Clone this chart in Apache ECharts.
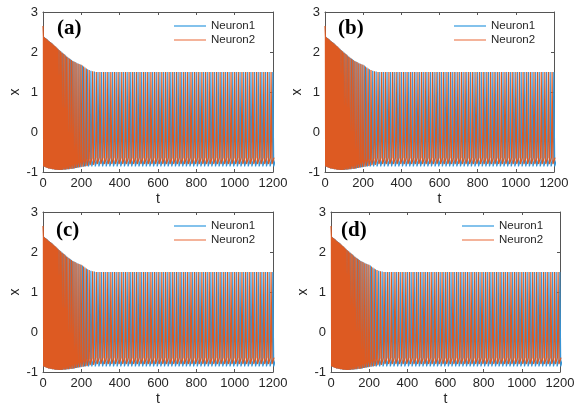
<!DOCTYPE html>
<html><head><meta charset="utf-8">
<script src="https://cdn.jsdelivr.net/npm/echarts@6/dist/echarts.min.js"></script>
<style>html,body{margin:0;padding:0;background:#fff}#c{width:581px;height:407px}</style>
</head><body><div id="c"></div><script>
// ---- data ----
const panelLabels = ['(a)', '(b)', '(c)', '(d)'];
const seriesNames = ['Neuron1', 'Neuron2'];
const xTicks = [0, 200, 400, 600, 800, 1000, 1200];
const yTicks = [-1, 0, 1, 2, 3];

// Neuron1 (blue): transient spikes
const n1TransTimes = [3,8,13,18,23,28,33,38,43,48,55,61,67,73,80,87,94,101,110,118,126,135,144,153,162,172,183,194,206,219,233,250,268];
const n1TransPeaks = [2.39,2.37,2.35,2.33,2.31,2.29,2.27,2.25,2.23,2.21,2.18,2.15,2.13,2.10,2.07,2.04,2.01,1.98,1.95,1.91,1.88,1.85,1.82,1.78,1.76,1.74,1.71,1.69,1.66,1.61,1.57,1.53,1.51];
const n1TransTroughs = [-0.86,-0.87,-0.88,-0.89,-0.90,-0.91,-0.91,-0.92,-0.92,-0.93,-0.93,-0.94,-0.94,-0.94,-0.95,-0.95,-0.95,-0.95,-0.94,-0.94,-0.93,-0.93,-0.92,-0.92,-0.91,-0.90,-0.89,-0.88,-0.87,-0.86,-0.86,-0.86,-0.86];
// Neuron1 steady spikes
const n1SteadyTimes = [287,306,325,344,363,382,401,420,439,458,477,496,515,534,553,572,591,610,629,648,667,686,705,724,743,762,781,800,819,838,857,876,895,914,933,952,971,990,1009,1028,1047,1066,1085,1104,1123,1142,1161,1180,1199];
const n1SteadyPeak = 1.5;
const n1SteadyTrough = -0.86;
const n1Recover = -0.68;

// Neuron2 (orange)
const n2Start = [0, 2.65];
const n2TransTimes = [2,7,12,17,22,27,32,37,42,47,53,59,65,71,77,84,91,98,106,114,122,130,139,148,157,167,177,188,199,212,226,241,259];
const n2TransPeaks = [2.39,2.37,2.35,2.33,2.31,2.29,2.27,2.25,2.23,2.21,2.19,2.16,2.14,2.11,2.08,2.05,2.02,1.99,1.96,1.93,1.89,1.86,1.83,1.80,1.77,1.75,1.72,1.70,1.68,1.64,1.59,1.55,1.52];
const n2TransTroughs = [-0.86,-0.87,-0.88,-0.89,-0.90,-0.91,-0.91,-0.92,-0.92,-0.93,-0.93,-0.94,-0.94,-0.94,-0.95,-0.95,-0.95,-0.95,-0.94,-0.94,-0.93,-0.93,-0.92,-0.92,-0.91,-0.90,-0.89,-0.88,-0.87,-0.86,-0.85,-0.83,-0.82];
const n2SteadyTimes = [278,297,316,335,354,373,392,411,430,449,468,487,506,525,544,563,582,601,620,639,658,677,696,715,734,753,772,791,810,829,848,867,886,905,924,943,962,981,1000,1019,1038,1057,1076,1095,1114,1133,1152,1171,1190];
const n2SteadyPeak = 1.5;
const n2SteadyTrough = -0.80;
const n2Recover = -0.64;

// ---- build polylines from spike lists ----
function buildTrace(transT, transP, transTr, steadyT, steadyP, steadyTr, recover, start) {
  const times = transT.concat(steadyT);
  const peaks = transP.concat(steadyT.map(() => steadyP));
  const troughs = transTr.concat(steadyT.map(() => steadyTr));
  const pts = [];
  if (start) pts.push(start);
  for (let i = 0; i < times.length; i++) {
    const t = times[i];
    const dt = (i + 1 < times.length ? times[i + 1] : t + (t - times[i - 1])) - t;
    pts.push([t, peaks[i]]);
    pts.push([t + 0.25 * dt, troughs[i]]);
    const rec = i < transT.length ? troughs[i] + 0.18 : recover;
    pts.push([t + 0.82 * dt, rec]);
  }
  return pts;
}
const n1Data = buildTrace(n1TransTimes, n1TransPeaks, n1TransTroughs, n1SteadyTimes, n1SteadyPeak, n1SteadyTrough, n1Recover, null);
const n2Data = buildTrace(n2TransTimes, n2TransPeaks, n2TransTroughs, n2SteadyTimes, n2SteadyPeak, n2SteadyTrough, n2Recover, n2Start);

// ---- layout ----
const grids = [
  {left: 43, top: 12, width: 230, height: 160},
  {left: 325, top: 12, width: 229, height: 160},
  {left: 43, top: 212, width: 230, height: 160},
  {left: 331, top: 212, width: 229, height: 161}
];
const labelPos = [[57, 18], [338, 18], [56, 220], [341, 220]];
const legendPos = [[174, 20], [454, 20], [174, 220], [462, 220]];
const blue = '#3895d6', orange = '#dd5a22';
const axisCol = '#555';
const font = 'Liberation Sans';

const xAxes = [], yAxes = [], series = [], legends = [], graphics = [];
grids.forEach((g, i) => {
  const tick = {show: true, inside: true, length: 3, lineStyle: {color: axisCol}};
  const line = {show: true, onZero: false, lineStyle: {color: axisCol, width: 1}};
  xAxes.push({type: 'value', gridIndex: i, min: xTicks[0], max: xTicks[xTicks.length - 1], interval: 200,
    axisLine: line, axisTick: tick, splitLine: {show: false},
    axisLabel: {color: '#262626', fontSize: 13, margin: 5, fontFamily: font, formatter: v => String(v)},
    name: 't', nameLocation: 'middle', nameGap: 20,
    nameTextStyle: {color: '#262626', fontSize: 14, fontFamily: font}});
  xAxes.push({type: 'value', gridIndex: i, position: 'top', min: 0, max: 1200, interval: 200,
    axisLine: line, axisTick: tick, splitLine: {show: false}, axisLabel: {show: false}});
  yAxes.push({type: 'value', gridIndex: i, min: yTicks[0], max: yTicks[yTicks.length - 1], interval: 1,
    axisLine: line, axisTick: tick, splitLine: {show: false},
    axisLabel: {color: '#262626', fontSize: 13, margin: 5, fontFamily: font, formatter: v => String(v)},
    name: 'x', nameLocation: 'middle', nameGap: 17, nameRotate: 90,
    nameTextStyle: {color: '#262626', fontSize: 14, fontFamily: font}});
  yAxes.push({type: 'value', gridIndex: i, position: 'right', min: -1, max: 3, interval: 1,
    axisLine: line, axisTick: tick, splitLine: {show: false}, axisLabel: {show: false}});
  series.push({name: seriesNames[0], type: 'line', xAxisIndex: 2 * i, yAxisIndex: 2 * i, data: n1Data,
    showSymbol: false, symbol: 'none', lineStyle: {color: blue, width: 1.2}, itemStyle: {color: blue}, animation: false, silent: true});
  series.push({name: seriesNames[1], type: 'line', xAxisIndex: 2 * i, yAxisIndex: 2 * i, data: n2Data,
    showSymbol: false, symbol: 'none', lineStyle: {color: orange, width: 1.2}, itemStyle: {color: orange}, animation: false, silent: true});
  legends.push({left: legendPos[i][0], top: legendPos[i][1], orient: 'vertical', itemWidth: 32, itemHeight: 1.5,
    itemGap: 2, icon: 'rect', selectedMode: false, padding: 0,
    textStyle: {color: '#262626', fontSize: 11.5, fontFamily: font},
    data: [{name: seriesNames[0], itemStyle: {color: '#5aaee6'}}, {name: seriesNames[1], itemStyle: {color: '#f09a78'}}]});
  graphics.push({type: 'text', left: labelPos[i][0], top: labelPos[i][1],
    style: {text: panelLabels[i], font: 'bold 21px "Liberation Serif"', fill: '#000'}});
});

const chart = echarts.init(document.getElementById('c'), null, {renderer: 'canvas'});
chart.setOption({
  animation: false,
  backgroundColor: '#fff',
  grid: grids,
  xAxis: xAxes,
  yAxis: yAxes,
  legend: legends,
  series: series,
  graphic: graphics
});
</script></body></html>
